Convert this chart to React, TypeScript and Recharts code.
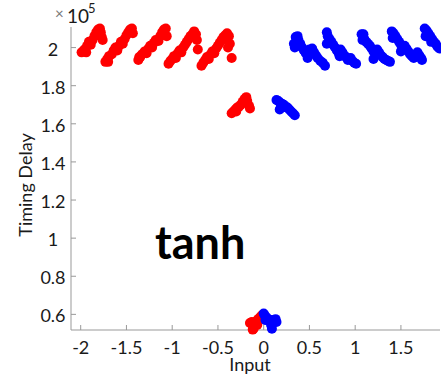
import { ScatterChart, Scatter, XAxis, YAxis } from 'recharts';

// input value vs. timing delay (delay in units of 1e5)
type Pt = [number, number];

const xTicks = [-2, -1.5, -1, -0.5, 0, 0.5, 1, 1.5];
const yTicks = [0.6, 0.8, 1, 1.2, 1.4, 1.6, 1.8, 2];
const xDomain: [number, number] = [-2.106, 1.927];
const yDomain: [number, number] = [0.518, 2.108];

// negative inputs
const redHigh: Pt[] = [
  [-1.99, 1.975], [-1.96, 1.99], [-1.94, 1.975], [-1.93, 2.01], [-1.91, 2.03], [-1.89, 2.015],
  [-1.87, 2.04], [-1.85, 2.06], [-1.83, 2.08], [-1.81, 2.095], [-1.79, 2.1], [-1.78, 2.08],
  [-1.77, 2.055], [-1.76, 2.04],
  [-1.73, 1.925], [-1.71, 1.94], [-1.69, 1.955], [-1.66, 1.965], [-1.64, 1.985], [-1.62, 2.0],
  [-1.6, 1.985], [-1.58, 2.01], [-1.56, 2.03], [-1.54, 2.02], [-1.52, 2.045], [-1.5, 2.065],
  [-1.48, 2.08], [-1.46, 2.095], [-1.44, 2.1], [-1.43, 2.075], [-1.7, 1.925],
  [-1.37, 1.935], [-1.35, 1.95], [-1.33, 1.965], [-1.3, 1.98], [-1.28, 1.97], [-1.26, 1.995],
  [-1.24, 2.01], [-1.22, 2.0], [-1.2, 2.025], [-1.18, 2.04], [-1.15, 2.035], [-1.13, 2.06],
  [-1.11, 2.08], [-1.09, 2.095], [-1.07, 2.1], [-1.06, 2.06], [-1.36, 1.95],
  [-1.04, 1.915], [-1.02, 1.93], [-1.0, 1.94], [-0.98, 1.955], [-0.96, 1.945], [-0.94, 1.97],
  [-0.92, 1.985], [-0.9, 1.975], [-0.88, 2.0], [-0.86, 2.015], [-0.84, 2.03], [-0.82, 2.045],
  [-0.8, 2.06], [-0.78, 2.07], [-0.76, 2.085], [-0.74, 2.07], [-0.72, 1.99], [-0.73, 2.04],
  [-0.68, 1.905], [-0.66, 1.92], [-0.64, 1.935], [-0.62, 1.95], [-0.6, 1.94], [-0.58, 1.965],
  [-0.56, 1.98], [-0.54, 1.97], [-0.52, 1.995], [-0.5, 2.01], [-0.48, 2.025], [-0.46, 2.04],
  [-0.44, 2.055], [-0.42, 2.065], [-0.4, 2.075], [-0.38, 2.06], [-0.37, 2.02], [-0.35, 1.945],
  [-0.39, 2.0],
];

const redMid: Pt[] = [
  [-0.35, 1.655], [-0.33, 1.665], [-0.31, 1.675], [-0.29, 1.685], [-0.27, 1.69], [-0.25, 1.7],
  [-0.23, 1.715], [-0.21, 1.73], [-0.19, 1.74], [-0.18, 1.72], [-0.16, 1.695], [-0.15, 1.68],
  [-0.3, 1.665],
];

const redLow: Pt[] = [
  [-0.15, 0.555], [-0.13, 0.56], [-0.12, 0.545], [-0.11, 0.525], [-0.1, 0.55], [-0.08, 0.565],
  [-0.06, 0.575], [-0.04, 0.585], [-0.02, 0.595], [-0.07, 0.545], [-0.12, 0.52],
];

// positive inputs
const blueHigh: Pt[] = [
  [0.33, 2.02], [0.35, 2.055], [0.37, 2.06], [0.38, 2.04], [0.4, 2.02], [0.42, 2.0],
  [0.44, 1.985], [0.46, 1.97], [0.48, 1.945], [0.5, 1.99], [0.53, 1.995], [0.55, 1.975],
  [0.57, 1.96], [0.59, 1.945], [0.62, 1.93], [0.645, 1.92], [0.67, 1.905], [0.34, 2.0],
  [0.69, 2.08], [0.7, 2.06], [0.69, 2.02], [0.72, 2.045], [0.74, 2.03], [0.76, 2.015],
  [0.78, 2.0], [0.8, 1.985], [0.82, 1.97], [0.84, 1.99], [0.86, 1.975], [0.88, 1.96],
  [0.9, 1.95], [0.92, 1.935], [0.95, 1.945], [0.97, 1.93], [0.99, 1.92], [1.01, 1.915],
  [0.83, 1.955],
  [1.07, 2.07], [1.09, 2.07], [1.1, 2.045], [1.12, 2.03], [1.14, 2.02], [1.16, 2.01],
  [1.18, 1.995], [1.2, 1.98], [1.22, 1.965], [1.2, 1.94], [1.24, 1.99], [1.26, 1.975],
  [1.28, 1.96], [1.3, 1.95], [1.32, 1.94], [1.34, 1.935], [1.36, 1.93], [1.38, 1.925],
  [1.08, 2.04],
  [1.4, 2.085], [1.42, 2.075], [1.41, 2.05], [1.44, 2.06], [1.46, 2.045], [1.48, 2.03],
  [1.5, 2.015], [1.52, 2.0], [1.5, 1.98], [1.54, 2.01], [1.56, 1.995], [1.58, 1.98],
  [1.6, 1.965], [1.62, 1.955], [1.64, 1.945], [1.66, 1.96], [1.68, 1.975], [1.7, 1.96],
  [1.72, 1.945], [1.73, 1.935],
  [1.76, 2.1], [1.78, 2.09], [1.77, 2.06], [1.8, 2.075], [1.82, 2.06], [1.84, 2.045],
  [1.86, 2.03], [1.88, 2.02], [1.9, 2.005], [1.92, 1.995], [1.83, 2.03],
];

const blueMid: Pt[] = [
  [0.14, 1.725], [0.16, 1.72], [0.18, 1.71], [0.2, 1.705], [0.22, 1.7], [0.24, 1.69],
  [0.26, 1.685], [0.28, 1.675], [0.3, 1.665], [0.32, 1.655], [0.34, 1.645], [0.175, 1.675],
  [0.19, 1.685],
];

const blueLow: Pt[] = [
  [0.0, 0.605], [0.01, 0.595], [0.03, 0.585], [0.05, 0.575], [0.07, 0.57], [0.09, 0.565],
  [0.11, 0.57], [0.13, 0.575], [0.14, 0.56], [0.08, 0.545], [0.09, 0.525], [0.02, 0.57],
];

const toRows = (pts: Pt[]) => pts.map(([x, y]) => ({ x, y }));
const redData = toRows([...redHigh, ...redMid, ...redLow]);
const blueData = toRows([...blueHigh, ...blueMid, ...blueLow]);

const FONT = 'Lato, "Open Sans", sans-serif';
const AXIS = '#999999';
const INK = '#1a1a1a';

const YTick = ({ x, y, payload }: any) => (
  <g>
    <line x1={x} y1={y} x2={x + 5} y2={y} stroke={AXIS} />
    <text x={x - 18} y={y + 8} textAnchor="middle" fontSize={18} fontFamily={FONT} fill={INK}>
      {String(payload.value)}
    </text>
  </g>
);

const XTick = ({ x, y, payload }: any) => (
  <g>
    <line x1={x} y1={y} x2={x} y2={y - 5} stroke={AXIS} />
    <text x={x} y={y + 24} textAnchor="middle" fontSize={18} fontFamily={FONT} fill={INK}>
      {String(payload.value)}
    </text>
  </g>
);

const dot = (color: string) => (p: any) => <circle cx={p.cx} cy={p.cy} r={5} fill={color} />;

export default function App() {
  return (
    <div style={{ position: 'absolute', left: 0, top: 0, width: 441, height: 379, background: '#fff' }}>
      <ScatterChart width={441} height={379} margin={{ top: 27, right: 1, bottom: 0, left: 0 }}>
        <XAxis
          type="number"
          dataKey="x"
          domain={xDomain}
          ticks={xTicks}
          height={49}
          tickSize={0}
          tickMargin={0}
          tickLine={false}
          axisLine={{ stroke: AXIS }}
          tick={<XTick />}
        />
        <YAxis
          type="number"
          dataKey="y"
          domain={yDomain}
          ticks={yTicks}
          width={71}
          tickSize={0}
          tickMargin={0}
          tickLine={false}
          axisLine={{ stroke: AXIS }}
          tick={<YTick />}
        />
        <Scatter data={redData} fill="#ff0000" shape={dot('#ff0000')} isAnimationActive={false} />
        <Scatter data={blueData} fill="#0000ff" shape={dot('#0000ff')} isAnimationActive={false} />
      </ScatterChart>
      <svg
        width={441}
        height={379}
        style={{ position: 'absolute', left: 0, top: 0, pointerEvents: 'none' }}
        fontFamily={FONT}
      >
        <text x={55} y={19} fontSize={15} fill="#777">×</text>
        <text x={67} y={23} fontSize={19} fill={INK}>10</text>
        <text x={88} y={13} fontSize={13} fill={INK}>5</text>
        <text x={250} y={371} textAnchor="middle" fontSize={18} fill={INK}>Input</text>
        <text
          x={25}
          y={185}
          transform="rotate(-90 25 185)"
          textAnchor="middle"
          dominantBaseline="central"
          fontSize={18}
          fill={INK}
        >
          Timing Delay
        </text>
        <text x={155} y={259} fontSize={45} fontWeight="bold" fill="#000">tanh</text>
      </svg>
    </div>
  );
}
